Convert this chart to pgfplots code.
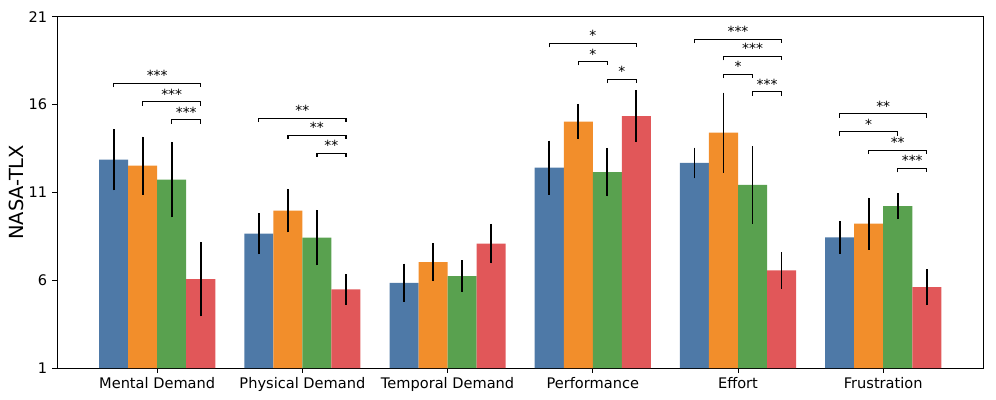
\documentclass[border=0pt]{standalone}
\usepackage{pgfplots}
\pgfplotsset{compat=1.18}
\usepackage{pgfplotstable}
\usepackage{fontspec}
\setmainfont{DejaVu Sans}

\definecolor{cblue}{HTML}{4E79A7}
\definecolor{corange}{HTML}{F28E2B}
\definecolor{cgreen}{HTML}{59A14F}
\definecolor{cred}{HTML}{E15759}

% x y err  (categories 0..5)
\pgfplotstableread{
x y e
0 12.86 1.75
1 8.65 1.17
2 5.85 1.09
3 12.40 1.54
4 12.67 0.88
5 8.43 0.94
}\serA
\pgfplotstableread{
x y e
0 12.52 1.65
1 9.96 1.24
2 7.02 1.07
3 15.03 1.00
4 14.39 2.29
5 9.22 1.48
}\serB
\pgfplotstableread{
x y e
0 11.72 2.15
1 8.42 1.58
2 6.23 0.91
3 12.15 1.38
4 11.42 2.21
5 10.22 0.74
}\serC
\pgfplotstableread{
x y e
0 6.06 2.12
1 5.47 0.87
2 8.08 1.12
3 15.34 1.48
4 6.55 1.05
5 5.60 1.02
}\serD

% bracket: category, left bar offset, right bar offset, height, label
\newcommand{\brk}[5]{%
  \addplot[black, line width=0.9pt, forget plot] coordinates {(#1+#2,#4-0.22) (#1+#2,#4) (#1+#3,#4) (#1+#3,#4-0.22)};
  \node[font=\fontsize{10}{11}\selectfont, anchor=south, inner sep=1pt] at (axis cs:{#1+(#2+#3)/2},#4+0.05) {#5};
}

\begin{document}
\begin{tikzpicture}
\begin{axis}[
  at={(0,0)}, anchor=south west,
  scale only axis,
  width=667pt, height=253pt,
  xmin=-0.69, xmax=5.69,
  ymin=1, ymax=21,
  ytick={1,6,11,16,21},
  xtick={0,1,2,3,4,5},
  xticklabels={Mental Demand, Physical Demand, Temporal Demand, Performance, Effort, Frustration},
  tick align=outside,
  tick pos=left,
  major tick length=3.5pt,
  tick style={black, line width=0.6pt},
  axis line style={line width=0.6pt},
  ylabel={NASA-TLX},
  ylabel style={font=\fontsize{14}{16}\selectfont, yshift=-3pt},
  tick label style={font=\fontsize{10.5}{12}\selectfont},
  /pgf/number format/assume math mode=true,
  clip=false,
  error bars/y dir=both,
  error bars/y explicit,
  error bars/error mark=none,
  error bars/error bar style={black, line width=1.3pt},
]
\addplot[ybar, bar width=0.2, bar shift=0pt, fill=cblue, draw=none] table[x expr=\thisrow{x}-0.3, y=y, y error=e] {\serA};
\addplot[ybar, bar width=0.2, bar shift=0pt, fill=corange, draw=none] table[x expr=\thisrow{x}-0.1, y=y, y error=e] {\serB};
\addplot[ybar, bar width=0.2, bar shift=0pt, fill=cgreen, draw=none] table[x expr=\thisrow{x}+0.1, y=y, y error=e] {\serC};
\addplot[ybar, bar width=0.2, bar shift=0pt, fill=cred, draw=none] table[x expr=\thisrow{x}+0.3, y=y, y error=e] {\serD};

% Mental Demand
\brk{0}{-0.3}{0.3}{17.21}{***}
\brk{0}{-0.1}{0.3}{16.15}{***}
\brk{0}{0.1}{0.3}{15.13}{***}
% Physical Demand
\brk{1}{-0.3}{0.3}{15.22}{**}
\brk{1}{-0.1}{0.3}{14.24}{**}
\brk{1}{0.1}{0.3}{13.23}{**}
% Performance
\brk{3}{-0.3}{0.3}{19.47}{*}
\brk{3}{-0.1}{0.1}{18.44}{*}
\brk{3}{0.1}{0.3}{17.44}{*}
% Effort
\brk{4}{-0.3}{0.3}{19.71}{***}
\brk{4}{-0.1}{0.3}{18.73}{***}
\brk{4}{-0.1}{0.1}{17.72}{*}
\brk{4}{0.1}{0.3}{16.72}{***}
% Frustration
\brk{5}{-0.3}{0.3}{15.47}{**}
\brk{5}{-0.3}{0.1}{14.45}{*}
\brk{5}{-0.1}{0.3}{13.39}{**}
\brk{5}{0.1}{0.3}{12.36}{***}
\end{axis}
\path (-41.04pt,-22.32pt) rectangle (676.08pt,264.96pt);
\end{tikzpicture}
\end{document}
